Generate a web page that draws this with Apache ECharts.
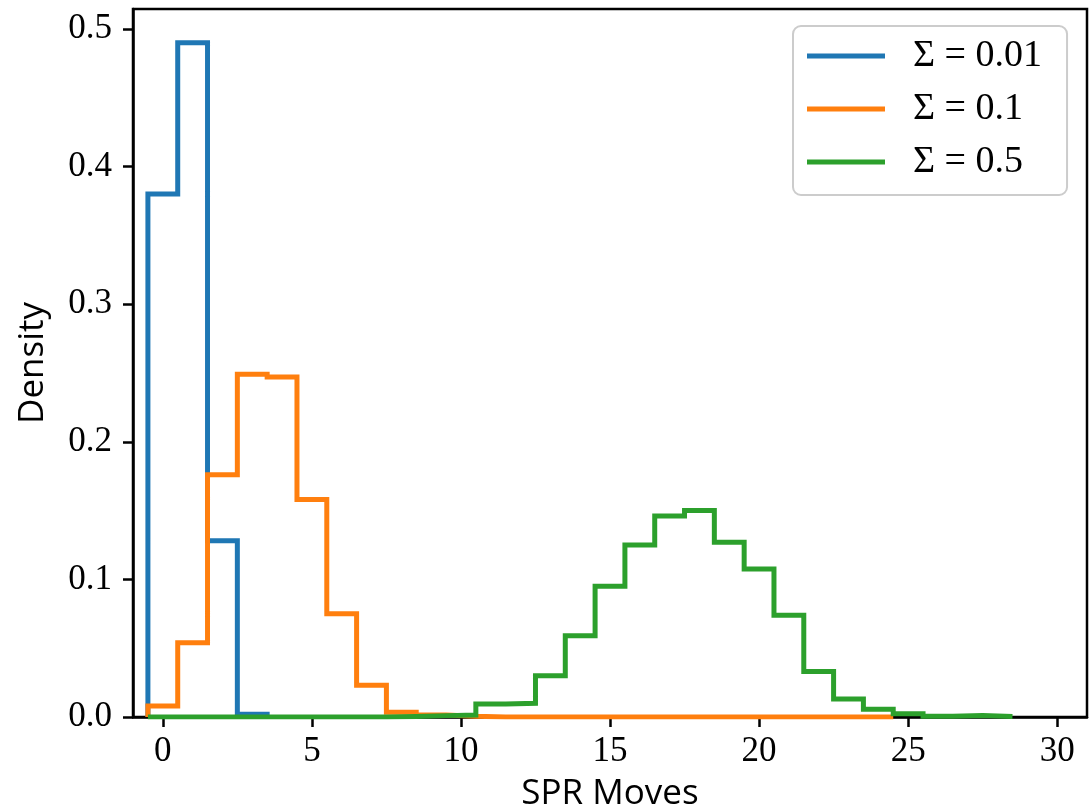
<!DOCTYPE html>
<html>
<head>
<meta charset="utf-8">
<script src="https://cdn.jsdelivr.net/npm/echarts@6/dist/echarts.min.js"></script>
<style>
html,body{margin:0;padding:0;background:#fff;}
#chart{width:1091px;height:810px;}
</style>
</head>
<body>
<div id="chart"></div>
<script>
// Data (histogram densities, integer-centred bins starting at -0.5, width 1)
const firstEdge = -0.5;
const seriesNames = ['Σ = 0.01', 'Σ = 0.1', 'Σ = 0.5'];
const blueValues = [0.38, 0.49, 0.128, 0.002];
const orangeValues = [0.008, 0.054, 0.176, 0.249, 0.247, 0.158, 0.075, 0.023, 0.0035, 0.0015, 0.0005,
  0, 0, 0, 0, 0, 0, 0, 0, 0, 0, 0, 0, 0, 0];
const greenValues = [0, 0, 0, 0, 0, 0, 0, 0, 0.0003, 0.001, 0.0015, 0.0095, 0.010, 0.030, 0.059, 0.095,
  0.125, 0.146, 0.150, 0.127, 0.1075, 0.074, 0.033, 0.013, 0.0056, 0.0024, 0.0005, 0.001, 0.0003];
const xTicks = [0, 5, 10, 15, 20, 25, 30];
const yTicks = [0.0, 0.1, 0.2, 0.3, 0.4, 0.5];
const colors = ['#1f77b4', '#ff7f0e', '#2ca02c'];

function outline(values) {
  const pts = [[firstEdge, 0]];
  values.forEach((v, i) => {
    pts.push([firstEdge + i, v]);
    pts.push([firstEdge + i + 1, v]);
  });
  pts.push([firstEdge + values.length, 0]);
  return pts;
}

const chart = echarts.init(document.getElementById('chart'), null, {renderer: 'canvas'});
const tickFont = 'Liberation Serif, DejaVu Serif, serif';
const sansFont = 'Open Sans, Noto Sans, sans-serif';

const option = {
  backgroundColor: '#ffffff',
  animation: false,
  color: colors,
  grid: {
    left: 133, right: 4, top: 9, bottom: 93,
    containLabel: false,
    outerBoundsMode: 'none',
    show: true, borderColor: '#000', borderWidth: 2.5, backgroundColor: 'transparent'
  },
  legend: {
    orient: 'vertical',
    left: 793, top: 26,
    data: seriesNames,
    icon: 'rect',
    itemWidth: 78, itemHeight: 5,
    itemGap: 15,
    padding: [11, 25, 14, 14],
    backgroundColor: 'rgba(255,255,255,0.8)',
    borderColor: '#cccccc', borderWidth: 2, borderRadius: 8,
    textStyle: {
      fontFamily: tickFont, fontSize: 38, color: '#000',
      lineHeight: 36, padding: [0, 0, 0, 23]
    }
  },
  xAxis: {
    type: 'value', min: -1, max: 31,
    name: 'SPR Moves', nameLocation: 'middle', nameGap: 60,
    nameTextStyle: {fontFamily: sansFont, fontSize: 35, color: '#000'},
    axisLine: {show: true, onZero: false, lineStyle: {color: '#000', width: 2.5}},
    axisTick: {show: true, customValues: xTicks, length: 10, lineStyle: {color: '#000', width: 2.5}},
    axisLabel: {show: true, customValues: xTicks, margin: 17, fontFamily: tickFont, fontSize: 35, color: '#000'},
    splitLine: {show: false}
  },
  yAxis: {
    type: 'value', min: 0, max: 0.5145,
    name: 'Density', nameLocation: 'middle', nameGap: 82, nameRotate: 90,
    nameTextStyle: {fontFamily: sansFont, fontSize: 35, color: '#000'},
    axisLine: {show: true, onZero: false, lineStyle: {color: '#000', width: 2.5}},
    axisTick: {show: true, customValues: yTicks, length: 10, lineStyle: {color: '#000', width: 2.5}},
    axisLabel: {show: true, customValues: yTicks, margin: 21, fontFamily: tickFont, fontSize: 35, color: '#000',
      formatter: v => v.toFixed(1)},
    splitLine: {show: false}
  },
  series: [blueValues, orangeValues, greenValues].map((vals, i) => ({
    name: seriesNames[i],
    type: 'line',
    data: outline(vals),
    showSymbol: false, symbol: 'none',
    z: 2 + i,
    lineStyle: {color: colors[i], width: 5, join: 'miter', cap: 'butt'},
    itemStyle: {color: colors[i]},
    emphasis: {disabled: true}
  }))
};
chart.setOption(option);
</script>
</body>
</html>
